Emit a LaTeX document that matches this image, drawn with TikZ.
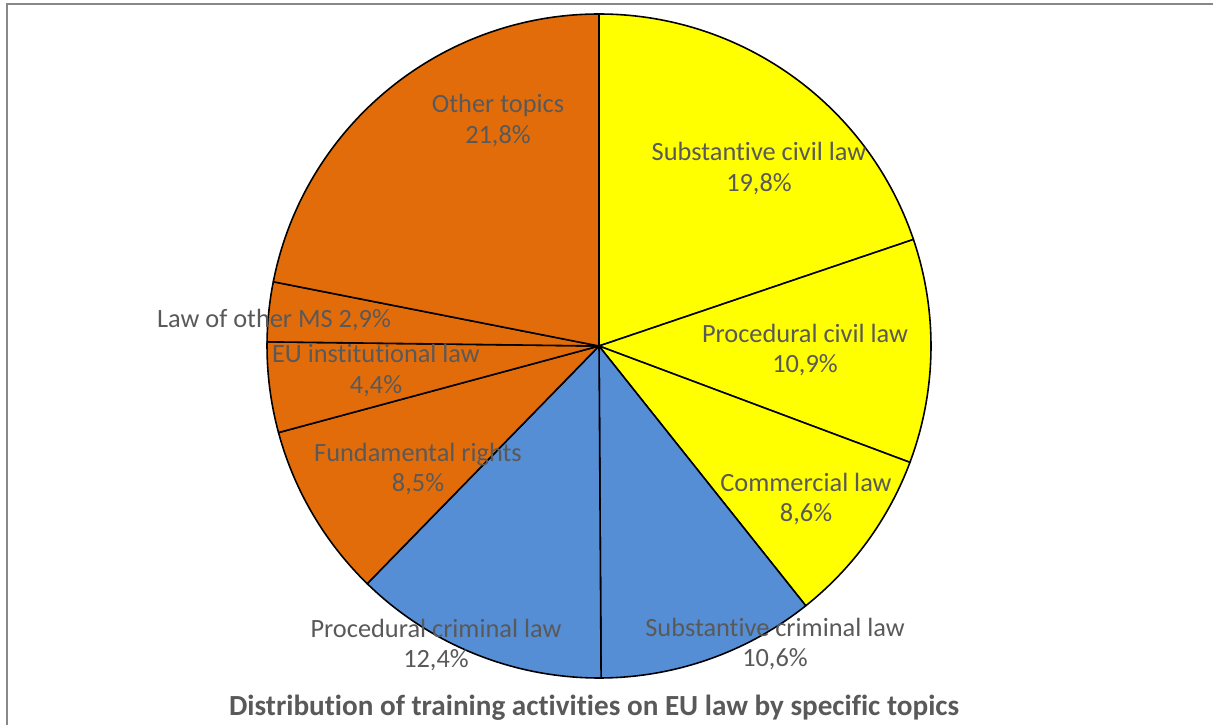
\documentclass[tikz,border=0pt]{standalone}
\usepackage{fontspec}
\setmainfont{Carlito}[Ligatures=NoCommon]
\usepackage{tikz}

\definecolor{slyellow}{RGB}{255,255,0}
\definecolor{slblue}{RGB}{85,142,213}
\definecolor{slorange}{RGB}{227,108,10}
\definecolor{labgray}{RGB}{89,89,89}
\definecolor{framegray}{RGB}{136,136,136}

\tikzset{
  slice/.style={draw=black, line width=0.9pt, line join=round},
  lab/.style={text=labgray, align=center, inner sep=0pt, font=\fontsize{15}{17.6}\selectfont},
  charttitle/.style={text=labgray, inner sep=0pt, font=\fontsize{16.6}{19}\selectfont\bfseries}
}

\begin{document}
\begin{tikzpicture}
\useasboundingbox (0,0) rectangle (24.26,14.48);
\begin{scope}
\clip (0,0) rectangle (24.26,14.48);
\draw[framegray, line width=0.04cm] (0.13,-1) -- (0.13,14.4) -- (25,14.4);
\end{scope}
\coordinate (O) at (11.98,7.56);
\def\r{6.64}
% slices, clockwise from the top
\foreach \a/\b/\c in {90/18.72/slyellow, 18.72/-20.52/slyellow, -20.52/-51.48/slyellow,
  -51.48/-89.64/slblue, -89.64/-134.28/slblue,
  -134.28/-164.88/slorange, -164.88/-180.72/slorange, -180.72/-191.16/slorange, -191.16/-270/slorange}
  \filldraw[slice, fill=\c] (O) -- ++(\a:\r) arc[start angle=\a, end angle=\b, radius=\r] -- cycle;
% labels
\node[lab] (subciv) at (15.18,11.11) {Substantive civil law\\19,8\%};
\node[lab] (procciv) at (16.10,7.48) {Procedural civil law\\10,9\%};
\node[lab] (comm) at (16.12,4.50) {Commercial law\\8,6\%};
\node[lab] (subcrim) at (15.50,1.60) {Substantive criminal law\\10,6\%};
\node[lab] (proccrim) at (8.72,1.58) {Procedural criminal law\\12,4\%};
\node[lab] (fund) at (8.36,5.10) {Fundamental rights\\8,5\%};
\node[lab] (euinst) at (7.52,7.07) {EU institutional law\\4,4\%};
\node[lab] (otherms) at (5.48,8.08) {Law of other MS 2,9\%};
\node[lab] (othertop) at (9.96,12.07) {Other topics\\21,8\%};
\node[charttitle] (title) at (11.88,0.32) {Distribution of training activities on EU law by specific topics};
\end{tikzpicture}
\end{document}
